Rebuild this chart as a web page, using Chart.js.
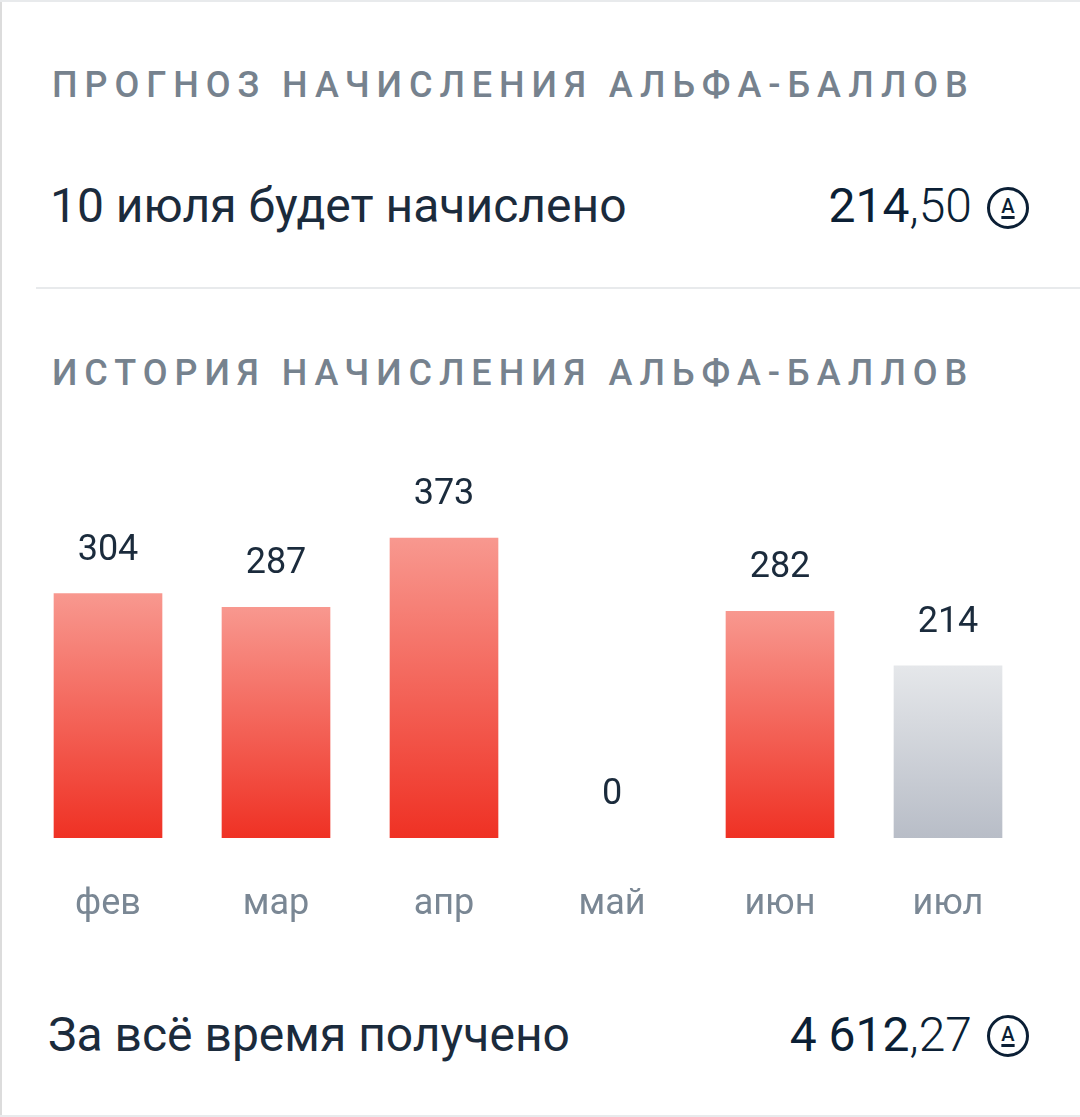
<!DOCTYPE html>
<html lang="ru">
<head>
<meta charset="utf-8">
<title>Альфа-баллы</title>
<script src="https://cdn.jsdelivr.net/npm/chart.js@4/dist/chart.umd.min.js"></script>
<style>
  html, body { margin: 0; padding: 0; background: #fff; }
  body { position: relative; width: 1080px; height: 1117px; overflow: hidden; font-family: Roboto, sans-serif; color: #0b1f35; }
  .abs { position: absolute; white-space: nowrap; }
  .title { left: 52px; font-size: 36px; font-weight: 500; letter-spacing: 6.95px; color: #76828e; line-height: 40px; }
  .row { left: 50px; font-size: 48px; line-height: 52px; color: #1b2b3c; }
  .amount { right: 108px; font-size: 48px; line-height: 52px; color: #0b1f35; }
  .amount b { font-weight: 400; }
  .amount i { font-style: normal; font-weight: 300; }
  .coin { left: 987px; width: 36px; height: 36px; border: 3px solid #0b1f35; border-radius: 50%;
          font-size: 20px; font-weight: 500; line-height: 33px; text-align: center; }
  .coin u { text-underline-offset: 3px; text-decoration-thickness: 3px; }
  .line { background: #e8eaec; }
  canvas { position: absolute; left: 0; top: 420px; }
</style>
</head>
<body>
<div class="abs line" style="left:0;top:0;width:2px;height:1117px;background:#dcdcdc"></div>
<div class="abs line" style="left:0;top:0;width:1080px;height:2px"></div>
<div class="abs title" style="top:65px">ПРОГНОЗ НАЧИСЛЕНИЯ АЛЬФА-БАЛЛОВ</div>
<div class="abs row" style="top:180px">10 июля будет начислено</div>
<div class="abs amount" style="top:180px"><b>214</b><i>,50</i></div>
<div class="abs coin" style="top:187px"><u>А</u></div>
<div class="abs line" style="left:36px;top:287px;width:1044px;height:2px"></div>
<div class="abs title" style="top:353px">ИСТОРИЯ НАЧИСЛЕНИЯ АЛЬФА-БАЛЛОВ</div>
<div id="chart-wrap"><canvas id="chart" width="1080" height="520" style="width:1080px;height:520px"></canvas></div>
<div class="abs row" style="left:48px;top:1009px">За всё время получено</div>
<div class="abs amount" style="top:1009px"><b>4 612</b><i>,27</i></div>
<div class="abs coin" style="top:1015px"><u>А</u></div>
<div class="abs line" style="left:0;top:1115px;width:1080px;height:2px"></div>

<script>
"use strict";

const MONTHS = ["фев", "мар", "апр", "май", "июн", "июл"];
const POINTS = [304, 287, 373, 0, 282, 214];
// июль ещё только прогноз, поэтому столбик серый
const FORECAST_MONTH = "июл";

const RED_STOPS = ["#f8988f", "#ef3124"];
const GREY_STOPS = ["#e5e7ea", "#b8bdc7"];

function barFill(c) {
  const { chart, dataIndex } = c;
  if (!chart.chartArea) return RED_STOPS[1];
  const y = chart.scales.y;
  const top = y.getPixelForValue(POINTS[dataIndex]);
  const g = chart.ctx.createLinearGradient(0, top, 0, y.getPixelForValue(0));
  const stops = MONTHS[dataIndex] === FORECAST_MONTH ? GREY_STOPS : RED_STOPS;
  g.addColorStop(0, stops[0]);
  g.addColorStop(1, stops[1]);
  return g;
}

// подписи значений над столбиками
const valueLabels = {
  id: "valueLabels",
  afterDatasetsDraw(chart) {
    const ctx = chart.ctx;
    ctx.save();
    ctx.font = "400 36px Roboto";
    ctx.fillStyle = "#1b2b3c";
    ctx.textAlign = "center";
    ctx.textBaseline = "middle";
    chart.getDatasetMeta(0).data.forEach((bar, i) => {
      ctx.fillText(String(POINTS[i]), bar.x, bar.y - 43);
    });
    ctx.restore();
  },
};

new Chart(document.getElementById("chart"), {
  type: "bar",
  data: {
    labels: MONTHS,
    datasets: [{ data: POINTS, backgroundColor: barFill, borderWidth: 0, barThickness: 108 }],
  },
  plugins: [valueLabels],
  options: {
    responsive: false,
    animation: false,
    layout: { padding: { left: 24, right: 48, top: 20, bottom: 0 } },
    plugins: { legend: { display: false }, tooltip: { enabled: false } },
    scales: {
      y: { display: false, min: 0, max: 495 },
      x: {
        afterFit: (s) => { s.height = 102; },
        grid: { display: false, drawTicks: false },
        border: { display: false },
        ticks: { color: "#7a8794", font: { family: "Roboto", size: 36 }, padding: 45, maxRotation: 0 },
      },
    },
  },
});
</script>
</body>
</html>
